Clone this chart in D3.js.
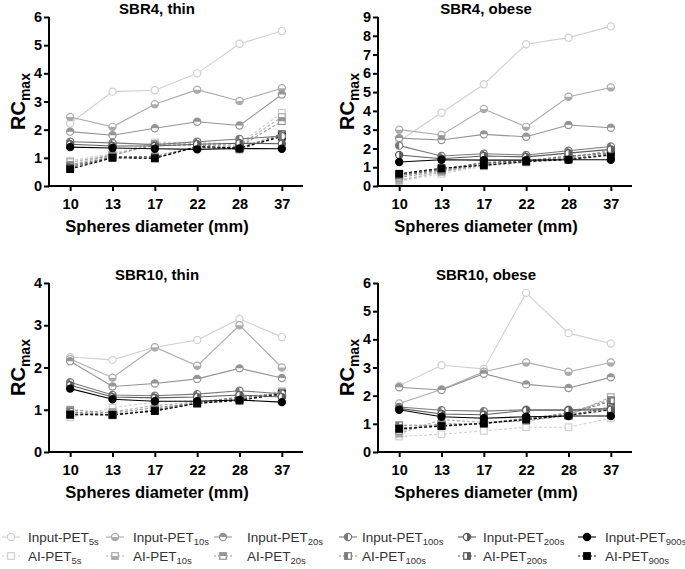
<!DOCTYPE html>
<html>
<head>
<meta charset="utf-8">
<script src="https://cdn.jsdelivr.net/npm/d3@7"></script>
<style>
  body { margin:0; background:#fff; }
  svg { display:block; font-family:"Liberation Sans", Arial, sans-serif; }
</style>
</head>
<body>
<svg id="chart" width="685" height="569"></svg>
<script>

const diameters = ["10","13","17","22","28","37"];
const times = ["5s","10s","20s","100s","200s","900s"];

// SBR4, thin
const sbr4ThinInput = [
  [2.22,3.35,3.40,4.00,5.05,5.50],
  [2.45,2.10,2.90,3.42,3.02,3.47],
  [1.93,1.80,2.05,2.28,2.15,3.25],
  [1.57,1.53,1.47,1.57,1.67,1.77],
  [1.48,1.42,1.42,1.48,1.52,1.50],
  [1.38,1.35,1.32,1.30,1.33,1.32]
];
const sbr4ThinAI = [
  [0.90,1.15,1.55,1.55,1.50,2.60],
  [0.85,1.10,1.50,1.50,1.45,2.45],
  [0.75,1.10,1.45,1.45,1.40,2.30],
  [0.70,1.05,1.05,1.40,1.35,1.85],
  [0.65,1.02,1.00,1.38,1.30,1.80],
  [0.60,1.00,0.98,1.40,1.35,1.75]
];

// SBR4, obese
const sbr4ObeseInput = [
  [2.40,3.90,5.42,7.55,7.90,8.50],
  [3.00,2.72,4.10,3.15,4.75,5.25],
  [2.55,2.45,2.75,2.62,3.25,3.10],
  [2.15,1.60,1.72,1.65,1.88,2.10],
  [1.65,1.45,1.60,1.55,1.75,1.95],
  [1.28,1.40,1.38,1.38,1.40,1.40]
];
const sbr4ObeseAI = [
  [0.25,0.65,1.05,1.25,1.45,1.85],
  [0.30,0.75,1.10,1.30,1.50,1.90],
  [0.45,0.80,1.15,1.30,1.55,1.80],
  [0.55,0.85,1.20,1.35,1.60,1.75],
  [0.60,0.90,1.25,1.35,1.45,1.70],
  [0.65,0.95,1.10,1.30,1.40,1.65]
];

// SBR10, thin
const sbr10ThinInput = [
  [2.25,2.18,2.48,2.65,3.15,2.72],
  [2.20,1.76,2.48,2.04,3.00,2.00],
  [2.15,1.55,1.62,1.73,1.98,1.75],
  [1.65,1.35,1.33,1.37,1.45,1.38],
  [1.58,1.30,1.28,1.30,1.35,1.30],
  [1.50,1.25,1.20,1.20,1.23,1.18]
];
const sbr10ThinAI = [
  [0.82,1.05,1.18,1.22,1.20,1.45],
  [0.88,0.95,1.10,1.18,1.25,1.42],
  [1.00,0.92,1.05,1.15,1.28,1.40],
  [0.95,0.88,1.00,1.18,1.30,1.38],
  [0.90,0.87,0.98,1.15,1.25,1.35],
  [0.88,0.88,0.97,1.15,1.22,1.38]
];

// SBR10, obese
const sbr10ObeseInput = [
  [2.35,3.08,2.95,5.65,4.22,3.85],
  [1.72,2.22,2.85,3.18,2.85,3.18],
  [2.30,2.20,2.78,2.40,2.27,2.65],
  [1.60,1.48,1.45,1.50,1.50,1.55],
  [1.55,1.35,1.32,1.48,1.48,1.50],
  [1.50,1.25,1.20,1.25,1.28,1.28]
];
const sbr10ObeseAI = [
  [0.55,0.63,0.75,0.88,0.88,1.20],
  [0.65,1.15,1.05,1.10,1.30,1.95],
  [0.75,1.00,1.00,1.15,1.40,1.85],
  [0.95,0.95,1.00,1.20,1.35,1.80],
  [0.85,0.92,1.02,1.18,1.30,1.60],
  [0.82,0.92,1.02,1.15,1.30,1.50]
];

const colors = ["#d0d0d0","#ababab","#959595","#7a7a7a","#5c5c5c","#000000"];
const halves = ["none","bottom","top","left","right","full"];

const svg = d3.select("#chart");

const panels = [
  {title:"SBR4, thin", input:sbr4ThinInput, ai:sbr4ThinAI, ymax:6, left:49, top:17, bottom:186},
  {title:"SBR4, obese", input:sbr4ObeseInput, ai:sbr4ObeseAI, ymax:9, left:378, top:17, bottom:186},
  {title:"SBR10, thin", input:sbr10ThinInput, ai:sbr10ThinAI, ymax:4, left:49, top:283, bottom:452},
  {title:"SBR10, obese", input:sbr10ObeseInput, ai:sbr10ObeseAI, ymax:6, left:378, top:283, bottom:452}
];

const halfClip = (half,r) => {
  if (half === "top") return [-r,-r,2*r,r];
  if (half === "bottom") return [-r,0,2*r,r];
  if (half === "left") return [-r,-r,r,2*r];
  if (half === "right") return [0,-r,r,2*r];
  return [-r,-r,2*r,2*r];
}

let clipId = 0;
const defs = svg.append("defs");

const drawMarker = (g,shape,i,x,y) => {
  const r = shape === "circle" ? 3.6 : 3.3;
  const c = colors[i];
  const m = g.append("g").attr("transform",`translate(${x},${y})`);
  const base = shape === "circle"
    ? m.append("circle").attr("r",r)
    : m.append("rect").attr("x",-r).attr("y",-r).attr("width",2*r).attr("height",2*r);
  base.attr("fill","#fff").attr("stroke",c).attr("stroke-width",1.2);
  if (halves[i] !== "none") {
    const id = "hc" + (clipId++);
    const b = halfClip(halves[i],r);
    defs.append("clipPath").attr("id",id)
      .append("rect").attr("x",b[0]).attr("y",b[1]).attr("width",b[2]).attr("height",b[3]);
    const fillShape = shape === "circle"
      ? m.append("circle").attr("r",r)
      : m.append("rect").attr("x",-r).attr("y",-r).attr("width",2*r).attr("height",2*r);
    fillShape.attr("fill",c).attr("clip-path",`url(#${id})`);
  }
}

panels.forEach(p => {
  const width = 254;
  const x = d3.scalePoint().domain(diameters).range([p.left, p.left + width]).padding(0.5);
  const y = d3.scaleLinear().domain([0,p.ymax]).range([p.bottom,p.top]);
  const g = svg.append("g");

  const line = d3.line()
    .x((d,i) => x(diameters[i]))
    .y(d => y(d));

  const series = [];
  p.ai.forEach((vals,i) => series.push({vals:vals, i:i, ai:true}));
  p.input.forEach((vals,i) => series.push({vals:vals, i:i, ai:false}));

  series.forEach(s => {
    g.append("path")
      .attr("d",line(s.vals))
      .attr("fill","none")
      .attr("stroke",colors[s.i])
      .attr("stroke-width",1.1)
      .attr("stroke-dasharray",s.ai ? "3,2" : null);
  });
  series.forEach(s => {
    s.vals.forEach((v,j) => drawMarker(g, s.ai ? "square" : "circle", s.i, x(diameters[j]), y(v)));
  });

  const yAxis = g.append("g")
    .attr("transform",`translate(${p.left},0)`)
    .call(d3.axisLeft(y).ticks(p.ymax).tickFormat(d3.format("d")).tickSize(5).tickSizeOuter(0));
  const xAxis = g.append("g")
    .attr("transform",`translate(0,${p.bottom})`)
    .call(d3.axisBottom(x).tickSize(5).tickSizeOuter(0));

  [yAxis,xAxis].forEach(a => {
    a.select(".domain").attr("stroke","#000").attr("stroke-width",2);
    a.selectAll(".tick line").attr("stroke","#000").attr("stroke-width",2);
    a.selectAll(".tick text")
      .attr("fill","#000")
      .attr("font-size",14.5)
      .attr("font-weight","bold")
      .attr("font-family","Liberation Sans, Arial, sans-serif");
  });
  xAxis.select(".domain").attr("d",`M${p.left},0H${p.left + width}`);
  xAxis.selectAll(".tick text").attr("dy","1.05em");
  yAxis.select(".domain").attr("d",`M0,${p.bottom}V${p.top}`);
  yAxis.selectAll(".tick text").attr("x",-7);

  const cx = p.left + width/2 - 19;
  g.append("text")
    .attr("x",cx)
    .attr("y",p.top - 3)
    .attr("text-anchor","middle")
    .attr("font-size",15)
    .attr("font-weight","bold")
    .text(p.title);

  g.append("text")
    .attr("x",cx)
    .attr("y",p.bottom + 46)
    .attr("text-anchor","middle")
    .attr("font-size",16.5)
    .attr("font-weight","bold")
    .text("Spheres diameter (mm)");

  const yl = g.append("text")
    .attr("transform",`translate(${p.left - 24},${(p.top + p.bottom)/2}) rotate(-90)`)
    .attr("text-anchor","middle")
    .attr("font-size",20)
    .attr("font-weight","bold");
  yl.append("tspan").text("RC");
  yl.append("tspan").attr("font-size",14).attr("dy",5).text("max");
});

const legendCols = [0,104,212,337,456,576];
const legendTextX = [28,133,247,362,483,605];
const legendRows = [
  {label:"Input-PET", ai:false, y:537},
  {label:"AI-PET", ai:true, y:556}
];

legendRows.forEach(row => {
  times.forEach((t,i) => {
    const lg = svg.append("g");
    lg.append("line")
      .attr("x1",legendCols[i] + 2).attr("x2",legendCols[i] + 20)
      .attr("y1",row.y).attr("y2",row.y)
      .attr("stroke",colors[i]).attr("stroke-width",1.1)
      .attr("stroke-dasharray",row.ai ? "2,2" : null);
    drawMarker(lg, row.ai ? "square" : "circle", i, legendCols[i] + 11, row.y);
    const tx = lg.append("text")
      .attr("x",legendTextX[i])
      .attr("y",row.y + 5)
      .attr("font-size",13.5)
      .attr("fill","#333");
    tx.append("tspan").text(row.label);
    tx.append("tspan").attr("font-size",9.5).attr("dy",3).text(t);
  });
});

</script>
</body>
</html>
